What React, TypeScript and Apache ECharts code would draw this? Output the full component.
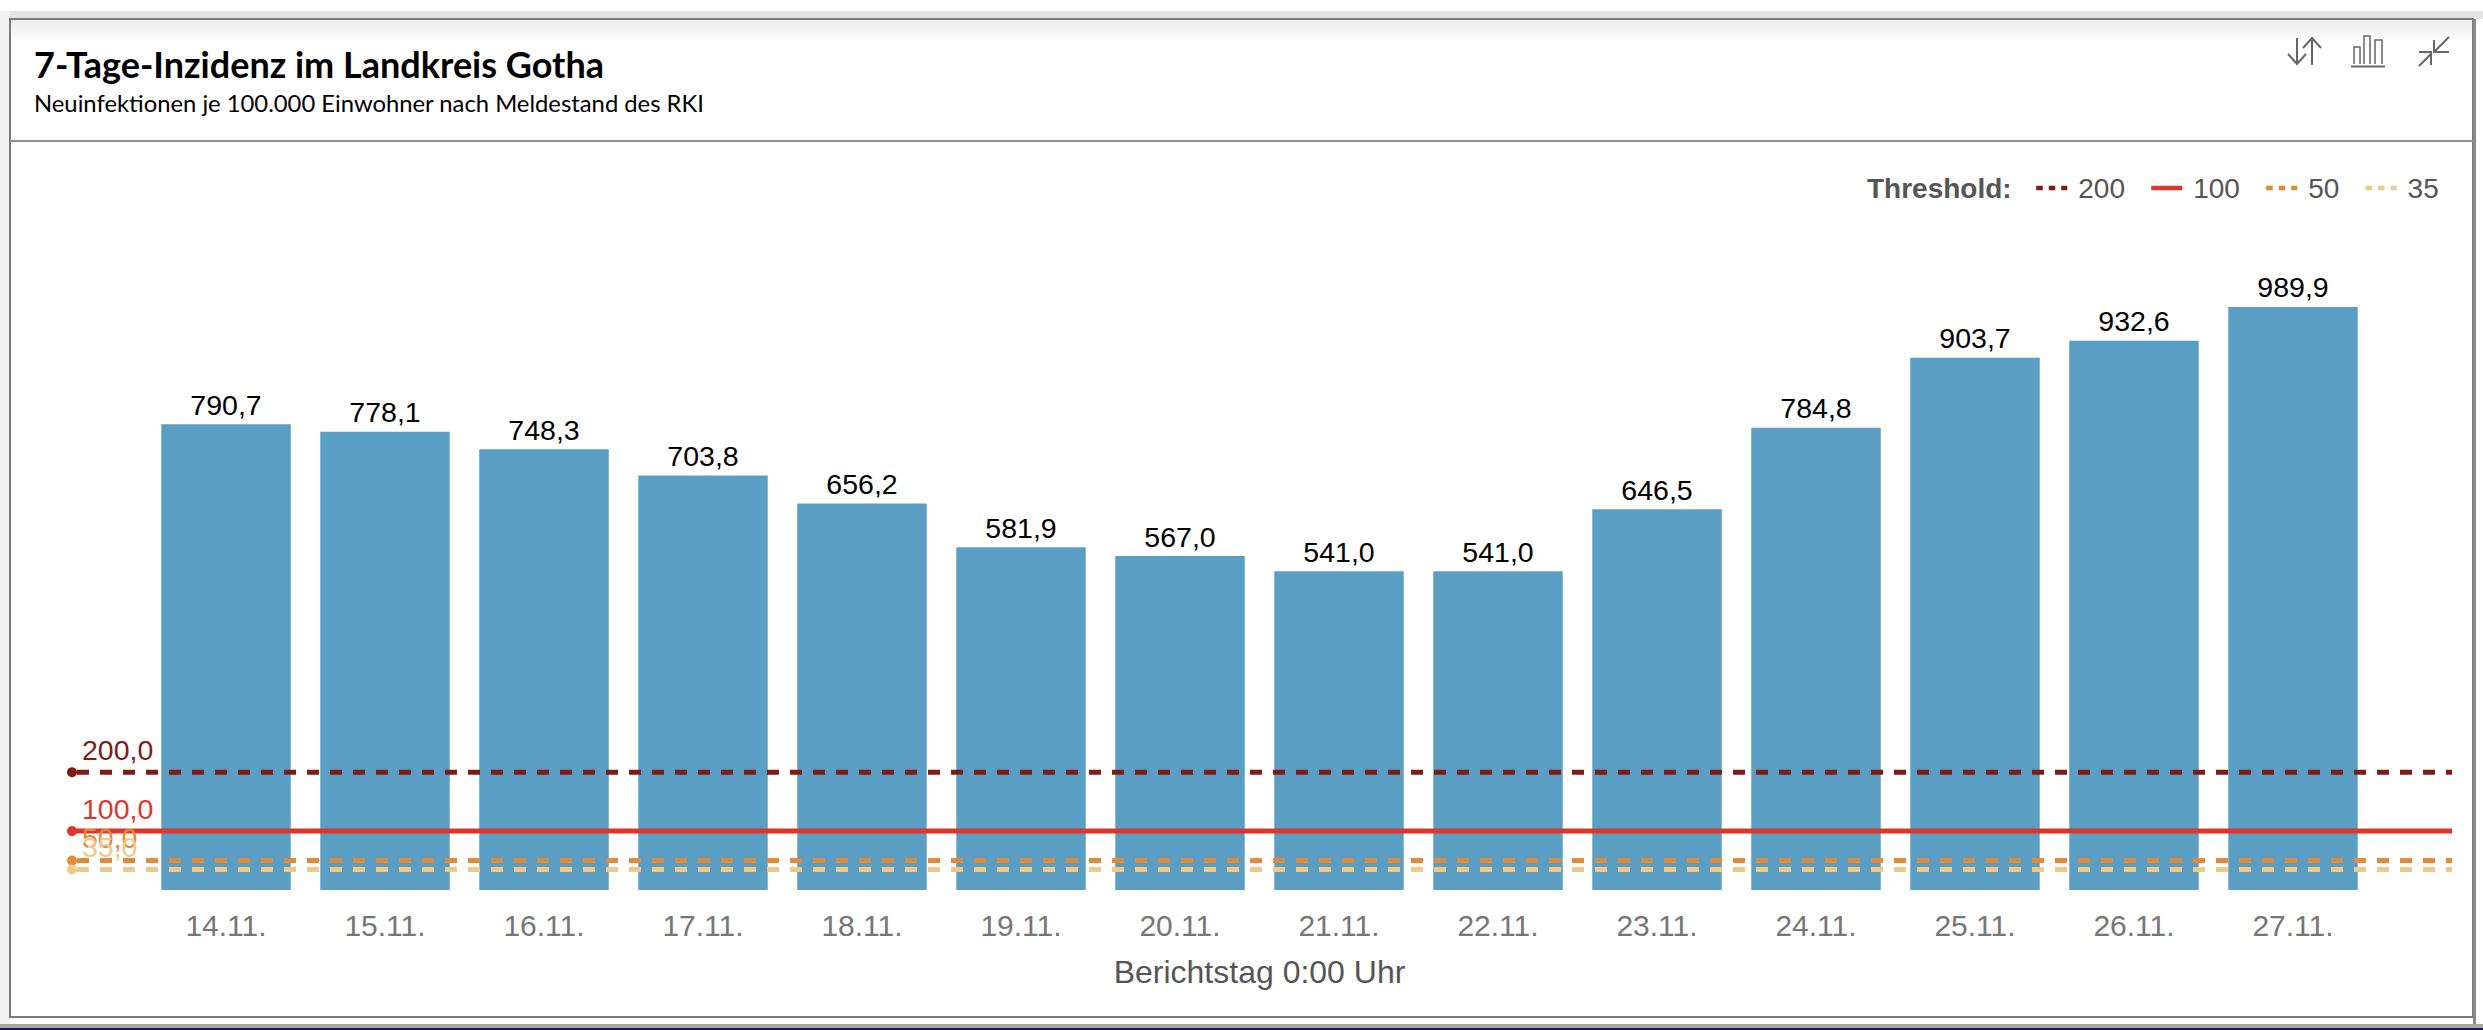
import React, { useEffect, useRef } from "react";
import * as echarts from "echarts";

const categories = ["14.11.", "15.11.", "16.11.", "17.11.", "18.11.", "19.11.", "20.11.", "21.11.", "22.11.", "23.11.", "24.11.", "25.11.", "26.11.", "27.11."];
const incidence = [790.7, 778.1, 748.3, 703.8, 656.2, 581.9, 567.0, 541.0, 541.0, 646.5, 784.8, 903.7, 932.6, 989.9];
const thresholds = [200, 100, 50, 35];
const thresholdColors = ["#7f1a14", "#e0352b", "#e28a38", "#eec98a"];
const title = "7-Tage-Inzidenz im Landkreis Gotha";
const subtitle = "Neuinfektionen je 100.000 Einwohner nach Meldestand des RKI";
const fmt = (v: number) => v.toFixed(1).replace(".", ",");

const SANS = "'Liberation Sans', Arial, sans-serif";

export default function App() {
  const ref = useRef<HTMLDivElement>(null);
  useEffect(() => {
    document.body.style.margin = "0";
    const chart = echarts.init(ref.current!, null, { renderer: "svg" });
    const thresholdSeries = thresholds.map((t, i) => ({
      type: "line",
      name: String(t),
      xAxisIndex: 1,
      yAxisIndex: 1,
      symbol: "none",
      z: 5 + i,
      lineStyle: { color: thresholdColors[i], width: 5, type: t === 100 ? "solid" : [12, 11], dashOffset: 18 },
      itemStyle: { color: thresholdColors[i] },
      data: [
        {
          value: [0, t],
          symbol: "circle",
          symbolSize: 10,
          label: {
            show: true,
            position: "top",
            align: "left",
            offset: [10, 2],
            formatter: fmt(t),
            color: thresholdColors[i],
            fontFamily: SANS,
            fontSize: 28.5,
          },
        },
        { value: [1, t] },
      ],
    }));
    chart.setOption({
      animation: false,
      backgroundColor: "#ffffff",
      title: {
        text: title,
        subtext: subtitle,
        left: 34,
        top: 46,
        itemGap: 9,
        padding: 0,
        textStyle: { fontFamily: "Lato", fontWeight: 700, fontSize: 36, color: "#000" },
        subtextStyle: { fontFamily: "Lato", fontWeight: 400, fontSize: 23.8, color: "#000" },
      },
      legend: {
        left: 2034,
        top: 174,
        padding: 0,
        itemWidth: 31,
        itemHeight: 30,
        itemGap: 24,
        selectedMode: false,
        textStyle: { fontFamily: SANS, fontSize: 28, color: "#555555", padding: [0, 0, 0, 6] },
        itemStyle: { opacity: 0 },
        lineStyle: { type: [6.5, 6], width: 4.5, dashOffset: 0 },
        data: thresholds.map((t) => ({
          name: String(t),
          lineStyle: t === 100 ? { type: "solid", width: 4.5 } : undefined,
        })),
      },
      grid: [
        { left: 146.5, width: 2226, top: 301, height: 589, containLabel: false },
        { left: 72, width: 2380, top: 301, height: 589, containLabel: false },
      ],
      xAxis: [
        {
          type: "category",
          gridIndex: 0,
          data: categories,
          axisLine: { show: false },
          axisTick: { show: false },
          axisLabel: { color: "#767676", fontFamily: SANS, fontSize: 30, margin: 20 },
          name: "Berichtstag 0:00 Uhr",
          nameLocation: "middle",
          nameGap: 66,
          nameTextStyle: { color: "#555555", fontFamily: SANS, fontSize: 32 },
        },
        { type: "value", gridIndex: 1, min: 0, max: 1, show: false },
      ],
      yAxis: [
        { type: "value", gridIndex: 0, min: 0, max: 1000, show: false },
        { type: "value", gridIndex: 1, min: 0, max: 1000, show: false },
      ],
      series: [
        {
          type: "bar",
          name: "7-Tage-Inzidenz",
          xAxisIndex: 0,
          yAxisIndex: 0,
          barWidth: 129.5,
          itemStyle: { color: "#5a9fc3" },
          label: {
            show: true,
            position: "top",
            distance: 5,
            color: "#000",
            fontFamily: SANS,
            fontSize: 28.5,
            formatter: (p: any) => fmt(p.value),
          },
          data: incidence,
        },
        ...thresholdSeries,
      ],
      graphic: [
        { type: "rect", silent: true, z: -10, shape: { x: 0, y: 11, width: 2483, height: 8 }, style: { fill: "#e4e4e4" } },
        { type: "rect", silent: true, z: -10, shape: { x: 0, y: 11, width: 10, height: 1013 }, style: { fill: "#f2f2f2" } },
        {
          type: "rect", silent: true, z: -10, shape: { x: 11, y: 20, width: 2461, height: 22 },
          style: { fill: new echarts.graphic.LinearGradient(0, 0, 0, 1, [{ offset: 0, color: "#ebebeb" }, { offset: 1, color: "#ffffff" }]) },
        },
        { type: "rect", silent: true, z: -9, shape: { x: 10, y: 19, width: 2463, height: 998 }, style: { fill: "none", stroke: "#7a7a7a", lineWidth: 2 } },
        { type: "rect", silent: true, z: -9, shape: { x: 2473, y: 19, width: 3, height: 1005 }, style: { fill: "#8a8a8a" } },
        { type: "rect", silent: true, z: -9, shape: { x: 0, y: 1024, width: 2483, height: 4 }, style: { fill: "#a8a8a8" } },
        { type: "rect", silent: true, z: -9, shape: { x: 0, y: 1028, width: 2483, height: 2 }, style: { fill: "#1b1464" } },
        { type: "line", silent: true, shape: { x1: 10, y1: 141, x2: 2473, y2: 141 }, style: { stroke: "#8f8f8f", lineWidth: 2 } },
        {
          type: "text", x: 1867, y: 188,
          style: { text: "Threshold:", fontFamily: SANS, fontWeight: "bold", fontSize: 28, fill: "#555555", textVerticalAlign: "middle" },
        },
        { type: "polyline", shape: { points: [[2297, 38], [2297, 64]] }, style: { stroke: "#666", lineWidth: 2, fill: "none" } },
        { type: "polyline", shape: { points: [[2288, 54], [2297, 64], [2306, 54]] }, style: { stroke: "#666", lineWidth: 2, fill: "none" } },
        { type: "polyline", shape: { points: [[2312, 38], [2312, 65]] }, style: { stroke: "#666", lineWidth: 2, fill: "none" } },
        { type: "polyline", shape: { points: [[2303, 48], [2312, 38], [2321, 48]] }, style: { stroke: "#666", lineWidth: 2, fill: "none" } },
        { type: "line", shape: { x1: 2351, y1: 66.5, x2: 2385, y2: 66.5 }, style: { stroke: "#666", lineWidth: 2 } },
        { type: "polyline", shape: { points: [[2354, 64], [2354, 47], [2360, 47], [2360, 64]] }, style: { stroke: "#666", lineWidth: 1.5, fill: "none" } },
        { type: "polyline", shape: { points: [[2364, 64], [2364, 36], [2370, 36], [2370, 64]] }, style: { stroke: "#666", lineWidth: 1.5, fill: "none" } },
        { type: "polyline", shape: { points: [[2375, 64], [2375, 40], [2382, 40], [2382, 64]] }, style: { stroke: "#666", lineWidth: 1.5, fill: "none" } },
        { type: "polyline", shape: { points: [[2449, 37], [2434, 52]] }, style: { stroke: "#666", lineWidth: 2, fill: "none" } },
        { type: "polyline", shape: { points: [[2434, 40], [2434, 52], [2449, 52]] }, style: { stroke: "#666", lineWidth: 2, fill: "none" } },
        { type: "polyline", shape: { points: [[2419, 66], [2432, 53]] }, style: { stroke: "#666", lineWidth: 2, fill: "none" } },
        { type: "polyline", shape: { points: [[2419, 52], [2431, 52], [2431, 65]] }, style: { stroke: "#666", lineWidth: 2, fill: "none" } },
      ],
    });
    return () => chart.dispose();
  }, []);
  return <div ref={ref} style={{ position: "absolute", left: 0, top: 0, width: 2483, height: 1030 }} />;
}
